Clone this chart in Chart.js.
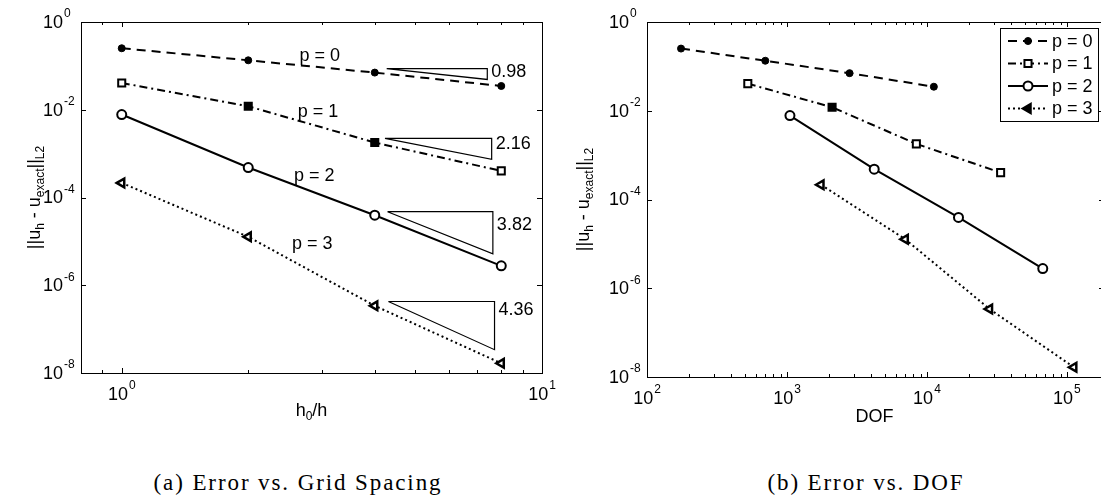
<!DOCTYPE html>
<html>
<head>
<meta charset="utf-8">
<script src="https://cdn.jsdelivr.net/npm/chart.js@4.4.1/dist/chart.umd.min.js"></script>
<style>
  html, body { margin: 0; padding: 0; background: #fff; width: 1101px; height: 502px; overflow: hidden; }
  #wrapA { position: absolute; left: 0; top: 0; width: 560px; height: 440px; }
  #wrapB { position: absolute; left: 560px; top: 0; width: 560px; height: 440px; }
  .caption { position: absolute; top: 470px; transform: translateX(-50%); white-space: nowrap;
             font-family: "Liberation Serif", "DejaVu Serif", serif; font-size: 23px; letter-spacing: 1.9px; color: #000; }
</style>
</head>
<body>
<div id="wrapA"><canvas id="chartA"></canvas></div>
<div id="wrapB"><canvas id="chartB"></canvas></div>
<div class="caption" style="left:298px">(a) Error vs. Grid Spacing</div>
<div class="caption" style="left:866px">(b) Error vs. DOF</div>

<script>
// ---- data ----
const orders = ['p = 0', 'p = 1', 'p = 2', 'p = 3'];
const refinement = [1, 2, 4, 8];               // h0/h

const dofP0 = [175, 700, 2800, 11200];
const dofP1 = [525, 2100, 8400, 33600];
const dofP2 = [1050, 4200, 16800, 67200];
const dofP3 = [1750, 7000, 28000, 112000];

const errP0 = [0.252, 0.134, 0.0703, 0.0348];
const errP1 = [0.0408, 0.0120, 1.79e-3, 4.04e-4];
const errP2 = [7.78e-3, 4.82e-4, 3.95e-5, 2.77e-6];
const errP3 = [2.15e-4, 1.27e-5, 3.40e-7, 1.66e-8];

// slope triangles (left plot)
const slopeLabels = ['0.98', '2.16', '3.82', '4.36'];
const triLeftX = [4.27, 4.23, 4.29, 4.31];
const triRightX = [7.41, 7.59, 7.64, 7.71];
const triTopY = [0.087, 2.22e-3, 4.75e-5, 4.26e-7];
const triBottomY = [0.049, 7.4e-4, 5.2e-6, 3.4e-8];
const slopeLabelY = [0.0716, 1.65e-3, 2.37e-5, 2.75e-7];

// in-plot order labels (left plot)
const orderLabelX = [2.96, 2.93, 2.87, 2.84];
const orderLabelY = [0.166, 8.77e-3, 3.08e-4, 8.7e-6];

// tick labels (exponents of 10)
const xExpA = [0, 1];
const xExpB = [2, 3, 4, 5];
const yExp = [0, -2, -4, -6, -8];

const FONT = '"Liberation Sans", Arial, Helvetica, sans-serif';
const BIG = '18px ' + FONT;
const SMALL = '12px ' + FONT;

const styles = [
  { borderDash: [9, 6], pointStyle: 'circle', pointRadius: 3.5, pointBorderWidth: 1, pointRotation: 0 },
  { borderDash: [8, 4, 2, 4], pointStyle: 'rect', pointRadius: 5, pointBorderWidth: 2, pointRotation: 0 },
  { borderDash: [], pointStyle: 'circle', pointRadius: 4.5, pointBorderWidth: 2, pointRotation: 0 },
  { borderDash: [2, 3], pointStyle: 'triangle', pointRadius: 5, pointBorderWidth: 2.5, pointRotation: -90 }
];

function series(xs, ys, i, fills) {
  return Object.assign({
    label: orders[i],
    data: xs.map((x, k) => ({ x: x, y: ys[k] })),
    borderColor: '#000',
    borderWidth: 2,
    pointBorderColor: '#000',
    pointBackgroundColor: fills,
    pointHoverRadius: 5,
    tension: 0,
    fill: false
  }, styles[i]);
}

function triangle(i) {
  return {
    label: 'slope ' + slopeLabels[i],
    data: [
      { x: triLeftX[i], y: triTopY[i] },
      { x: triRightX[i], y: triTopY[i] },
      { x: triRightX[i], y: triBottomY[i] },
      { x: triLeftX[i], y: triTopY[i] }
    ],
    borderColor: '#000',
    borderWidth: 1.2,
    pointRadius: 0,
    tension: 0,
    fill: false
  };
}

// ---- drawing helpers ----
function pow10(ctx, exp, x, y, align) {
  ctx.font = BIG;
  const wb = ctx.measureText('10').width;
  ctx.font = SMALL;
  const we = ctx.measureText(String(exp)).width;
  const x0 = align === 'center' ? x - (wb + we + 1) / 2 : x - wb;
  ctx.textAlign = 'left';
  ctx.textBaseline = 'middle';
  ctx.font = BIG;
  ctx.fillText('10', x0, y);
  ctx.font = SMALL;
  ctx.fillText(String(exp), x0 + wb + 1, y - 9);
}

function rich(ctx, parts, cx, cy) {
  let w = 0;
  parts.forEach(p => { ctx.font = p[1] ? SMALL : BIG; w += ctx.measureText(p[0]).width; });
  let x = cx - w / 2;
  ctx.textAlign = 'left';
  ctx.textBaseline = 'middle';
  parts.forEach(p => {
    ctx.font = p[1] ? SMALL : BIG;
    ctx.fillText(p[0], x, cy + (p[1] ? 6 : 0));
    x += ctx.measureText(p[0]).width;
  });
}

const yTitle = [['||u', 0], ['h', 1], [' - u', 0], ['exact', 1], ['||', 0], ['L2', 1]];

const matlabFrame = {
  id: 'matlabFrame',
  afterDatasetsDraw(chart, args, o) {
    const ctx = chart.ctx;
    const a = chart.chartArea;
    const xs = chart.scales.x, ys = chart.scales.y;
    ctx.save();
    ctx.strokeStyle = '#000';
    ctx.fillStyle = '#000';
    ctx.lineWidth = 1;
    ctx.setLineDash([]);
    ctx.strokeRect(Math.round(a.left) + 0.5, Math.round(a.top) + 0.5,
                   Math.round(a.right - a.left), Math.round(a.bottom - a.top));

    // x ticks: majors at decades, minors at 2..9
    ctx.beginPath();
    const lo = Math.floor(Math.log10(xs.min)), hi = Math.ceil(Math.log10(xs.max));
    for (let e = lo; e <= hi; e++) {
      for (let m = 1; m <= 9; m++) {
        const v = m * Math.pow(10, e);
        if (v < xs.min * 0.999 || v > xs.max * 1.001) continue;
        const px = Math.round(xs.getPixelForValue(v)) + 0.5;
        const len = m === 1 ? 5 : 3;
        ctx.moveTo(px, a.bottom); ctx.lineTo(px, a.bottom - len);
        ctx.moveTo(px, a.top); ctx.lineTo(px, a.top + len);
      }
    }
    o.yExp.forEach(e => {
      const py = Math.round(ys.getPixelForValue(Math.pow(10, e))) + 0.5;
      ctx.moveTo(a.left, py); ctx.lineTo(a.left + 5, py);
      ctx.moveTo(a.right, py); ctx.lineTo(a.right - 5, py);
    });
    ctx.stroke();

    // tick labels
    o.xExp.forEach(e => pow10(ctx, e, xs.getPixelForValue(Math.pow(10, e)), a.bottom + 22, 'center'));
    o.yExp.forEach(e => pow10(ctx, e, a.left - 18, ys.getPixelForValue(Math.pow(10, e)) + 1, 'right'));

    // axis titles
    rich(ctx, o.xTitle, (a.left + a.right) / 2 + (o.xTitleShift || 0), a.bottom + o.xTitleGap);
    ctx.save();
    ctx.translate(o.yTitleX, (a.top + a.bottom) / 2);
    ctx.rotate(-Math.PI / 2);
    rich(ctx, yTitle, 0, -4);
    ctx.restore();

    // annotations
    if (o.annotate) {
      ctx.font = BIG;
      ctx.textBaseline = 'middle';
      ctx.textAlign = 'center';
      orders.forEach((t, i) => {
        ctx.fillText(t, xs.getPixelForValue(orderLabelX[i]), ys.getPixelForValue(orderLabelY[i]));
      });
      ctx.textAlign = 'left';
      slopeLabels.forEach((t, i) => {
        ctx.fillText(t, xs.getPixelForValue(triRightX[i]) + 4, ys.getPixelForValue(slopeLabelY[i]));
      });
    }

    // legend box
    if (o.legend) {
      const L = o.legend;
      ctx.fillStyle = '#fff';
      ctx.fillRect(L.x0, L.y0, L.x1 - L.x0, L.y1 - L.y0);
      ctx.strokeStyle = '#000';
      ctx.lineWidth = 1;
      ctx.strokeRect(L.x0 + 0.5, L.y0 + 0.5, L.x1 - L.x0, L.y1 - L.y0);
      orders.forEach((t, i) => {
        const ds = chart.data.datasets[i];
        const y = L.y0 + L.first + i * L.step;
        ctx.save();
        ctx.lineWidth = ds.borderWidth;
        ctx.setLineDash(ds.borderDash);
        ctx.beginPath();
        ctx.moveTo(L.x0 + 8, y); ctx.lineTo(L.x0 + 48, y);
        ctx.stroke();
        ctx.restore();
        ctx.fillStyle = i === 0 || i === 3 ? '#000' : '#fff';
        ctx.strokeStyle = '#000';
        ctx.lineWidth = ds.pointBorderWidth;
        Chart.helpers.drawPoint(ctx, {
          pointStyle: ds.pointStyle, rotation: ds.pointRotation,
          radius: ds.pointRadius, borderWidth: ds.pointBorderWidth
        }, L.x0 + 28, y);
        ctx.fillStyle = '#000';
        ctx.font = BIG;
        ctx.textAlign = 'left';
        ctx.textBaseline = 'middle';
        ctx.fillText(t, L.x0 + 52, y + 1);
      });
    }
    ctx.restore();
  }
};

function makeChart(id, datasets, xMin, xMax, padding, frameOpts) {
  return new Chart(document.getElementById(id), {
    type: 'line',
    data: { datasets: datasets },
    options: {
      responsive: true,
      maintainAspectRatio: false,
      animation: false,
      layout: { padding: padding },
      scales: {
        x: { type: 'logarithmic', min: xMin, max: xMax, display: false },
        y: { type: 'logarithmic', min: 1e-8, max: 1, display: false }
      },
      plugins: {
        legend: { display: false },
        tooltip: { enabled: false },
        matlabFrame: frameOpts
      }
    },
    plugins: [matlabFrame]
  });
}

const W = '#fff', K = '#000';

makeChart('chartA', [
  series(refinement, errP0, 0, K),
  series(refinement, errP1, 1, [W, K, K, W]),
  series(refinement, errP2, 2, W),
  series(refinement, errP3, 3, W),
  triangle(0), triangle(1), triangle(2), triangle(3)
], 0.8, 10, { left: 81, top: 22, right: 18, bottom: 67 }, {
  xExp: xExpA, yExp: yExp,
  xTitle: [['h', 0], ['0', 1], ['/h', 0]], xTitleGap: 38,
  yTitleX: 39, annotate: true
});

makeChart('chartB', [
  series(dofP0, errP0, 0, K),
  series(dofP1, errP1, 1, [W, K, W, W]),
  series(dofP2, errP2, 2, W),
  series(dofP3, errP3, 3, W)
], 100, 1.84e5, { left: 87, top: 22, right: 16, bottom: 63 }, {
  xExp: xExpB, yExp: yExp,
  xTitle: [['DOF', 0]], xTitleGap: 40, xTitleShift: -1,
  yTitleX: 28,
  legend: { x0: 440, y0: 28, x1: 538, y1: 121, first: 13, step: 22.5 }
});
</script>
</body>
</html>
